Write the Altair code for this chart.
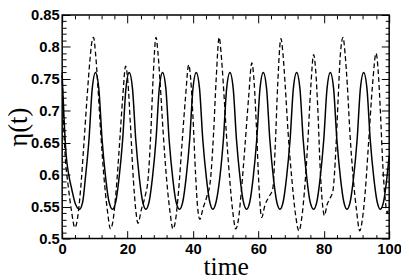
import altair as alt
import pandas as pd

# solid curve
solid_t = [0, 0.3, 0.6, 1.2, 2.0, 2.9, 4.0, 5.3, 6.3,
           7.1, 8.2, 9.2, 10.2, 11.2, 12.2, 13.3, 14.3, 15.4, 16.4,
           17.4, 18.5, 19.5, 20.5, 21.5, 22.5, 23.6, 24.6, 25.6, 26.6,
           27.6, 28.7, 29.7, 30.7, 31.7, 32.7, 33.8, 34.8, 35.9, 36.9,
           37.9, 39.0, 40.0, 41.0, 42.0, 43.0, 44.1, 45.1, 46.1, 47.1,
           48.2, 49.3, 50.3, 51.3, 52.3, 53.3, 54.4, 55.4, 56.4, 57.4,
           58.4, 59.5, 60.5, 61.5, 62.5, 63.5, 64.6, 65.6, 66.6, 67.6,
           68.6, 69.7, 70.7, 71.7, 72.7, 73.7, 74.8, 75.8, 76.9, 77.9,
           78.9, 80.0, 81.0, 82.0, 83.0, 84.0, 85.1, 86.1, 87.1, 88.1,
           89.1, 90.2, 91.2, 92.2, 93.2, 94.2, 95.3, 96.3, 97.3, 98.3,
           99.3, 100]
solid_y = [0.755, 0.72, 0.685, 0.632, 0.60, 0.578, 0.555, 0.546, 0.558,
           0.595, 0.655, 0.735, 0.76, 0.735, 0.655, 0.595, 0.558, 0.546, 0.558,
           0.595, 0.655, 0.735, 0.76, 0.735, 0.655, 0.595, 0.558, 0.546, 0.558,
           0.595, 0.655, 0.735, 0.76, 0.735, 0.655, 0.595, 0.558, 0.546, 0.558,
           0.595, 0.655, 0.735, 0.76, 0.735, 0.655, 0.595, 0.558, 0.546, 0.558,
           0.595, 0.655, 0.735, 0.76, 0.735, 0.655, 0.595, 0.558, 0.546, 0.558,
           0.595, 0.655, 0.735, 0.76, 0.735, 0.655, 0.595, 0.558, 0.546, 0.558,
           0.595, 0.655, 0.735, 0.76, 0.735, 0.655, 0.595, 0.558, 0.546, 0.558,
           0.595, 0.655, 0.735, 0.76, 0.735, 0.655, 0.595, 0.558, 0.546, 0.558,
           0.595, 0.655, 0.735, 0.76, 0.735, 0.655, 0.595, 0.558, 0.546, 0.558,
           0.595, 0.63]

# dashed curve
dash_t = [0, 0.3, 0.8, 1.9, 2.8, 3.9, 4.7, 5.6, 6.6, 7.6, 8.5, 9.0, 9.6,
          10.2, 10.9, 11.8, 12.8, 13.8, 14.8, 15.6, 16.5, 17.5, 18.5, 19.4,
          20.1, 20.9, 21.8, 22.5, 23.2, 24.2, 25.3, 26.3, 27.1, 27.8, 28.7,
          29.3, 30.0, 30.9, 31.9, 32.9, 33.9, 34.7, 35.6, 36.6, 37.7, 38.7,
          39.3, 40.0, 40.8, 41.4, 42.1, 43.1, 44.2, 45.3, 46.3, 47.1, 48.0,
          48.6, 49.3, 50.2, 51.2, 52.1, 53.1, 53.9, 54.8, 55.9, 57.0, 58.0,
          58.7, 59.4, 60.2, 61.0, 62.0, 63.2, 64.4, 65.2, 65.9, 66.9,
          67.5, 68.2, 69.1, 70.2, 71.3, 72.4, 73.2, 74.1, 75.1, 76.0, 76.9,
          77.5, 78.2, 78.9, 79.5, 80.2, 81.0, 81.9, 82.8, 83.7, 84.4, 85.1, 85.9,
          86.5, 87.2, 88.0, 89.0, 90.0, 91.0, 91.8, 92.7, 93.7, 94.9, 96.0,
          96.6, 97.3, 98.1, 98.8, 99.4, 100]
dash_y = [0.76, 0.70, 0.64, 0.58, 0.545, 0.517, 0.532, 0.575, 0.645, 0.72, 0.78, 0.805, 0.815,
          0.79, 0.74, 0.665, 0.595, 0.545, 0.515, 0.53, 0.575, 0.645, 0.72, 0.77,
          0.745, 0.675, 0.59, 0.545, 0.524, 0.545, 0.565, 0.595, 0.665, 0.75, 0.815,
          0.79, 0.74, 0.665, 0.595, 0.545, 0.515, 0.53, 0.575, 0.645, 0.72, 0.772,
          0.75, 0.69, 0.60, 0.55, 0.53, 0.548, 0.565, 0.59, 0.665, 0.75, 0.815,
          0.79, 0.74, 0.665, 0.595, 0.545, 0.515, 0.53, 0.575, 0.645, 0.72, 0.775,
          0.745, 0.675, 0.58, 0.533, 0.552, 0.565, 0.578, 0.65, 0.74, 0.813,
          0.79, 0.74, 0.665, 0.595, 0.54, 0.512, 0.53, 0.575, 0.65, 0.735, 0.788,
          0.765, 0.70, 0.61, 0.56, 0.536, 0.553, 0.563, 0.575, 0.64, 0.72, 0.79, 0.815,
          0.79, 0.74, 0.665, 0.595, 0.545, 0.512, 0.53, 0.575, 0.65, 0.74, 0.79,
          0.765, 0.70, 0.61, 0.56, 0.54, 0.55]

x_major = [0, 20, 40, 60, 80, 100]
x_minor = [4, 8, 12, 16, 24, 28, 32, 36, 44, 48, 52, 56, 64, 68, 72, 76, 84, 88, 92, 96]
y_major = [0.5, 0.55, 0.6, 0.65, 0.7, 0.75, 0.8, 0.85]
y_minor = [0.51, 0.52, 0.53, 0.54, 0.56, 0.57, 0.58, 0.59, 0.61, 0.62, 0.63, 0.64,
           0.66, 0.67, 0.68, 0.69, 0.71, 0.72, 0.73, 0.74, 0.76, 0.77, 0.78, 0.79,
           0.81, 0.82, 0.83, 0.84]

solid = pd.DataFrame({"t": solid_t, "eta": solid_y})
dashed = pd.DataFrame({"t": dash_t, "eta": dash_y})

xs = alt.Scale(domain=[0, 100], nice=False, zero=False)
ys = alt.Scale(domain=[0.5, 0.85], nice=False, zero=False)


def tick_axis(orient, values, size):
    return alt.Axis(orient=orient, values=values, labels=False, domain=False, grid=False,
                    ticks=True, tickSize=size, tickColor="black", tickWidth=1,
                    offset=-size, title=None)


main = alt.Chart(solid).mark_line(color="black", strokeWidth=1.5, interpolate="monotone").encode(
    x=alt.X("t:Q", scale=xs, axis=alt.Axis(
        orient="bottom", values=x_major, ticks=False, domain=False, grid=False,
        labelFont="Liberation Sans", labelFontWeight="bold", labelFontSize=15,
        labelColor="black", labelPadding=3, labelFlush=False, labelOverlap=False,
        title="time", titleFont="Liberation Serif", titleFontSize=26,
        titleFontWeight="normal", titleColor="black", titlePadding=-2)),
    y=alt.Y("eta:Q", scale=ys, axis=alt.Axis(
        orient="left", values=y_major, ticks=False, domain=False, grid=False,
        labelFont="Liberation Sans", labelFontWeight="bold", labelFontSize=15,
        labelColor="black", labelPadding=3, labelOverlap=False,
        format=".2~f",
        title="η(t)", titleFont="Liberation Serif", titleFontSize=27,
        titleFontWeight="normal", titleColor="black", titlePadding=-2)),
)

dash = alt.Chart(dashed).mark_line(color="black", strokeWidth=1.3, strokeDash=[5, 3],
                                   interpolate="monotone").encode(
    x=alt.X("t:Q", scale=xs, axis=tick_axis("bottom", x_major, 8)),
    y=alt.Y("eta:Q", scale=ys, axis=tick_axis("left", y_major, 8)),
)

inv = alt.Chart(solid).mark_line(opacity=0)

l3 = inv.encode(
    x=alt.X("t:Q", scale=xs, axis=tick_axis("bottom", x_minor, 4)),
    y=alt.Y("eta:Q", scale=ys, axis=tick_axis("left", y_minor, 4)),
)
l4 = inv.encode(
    x=alt.X("t:Q", scale=xs, axis=tick_axis("top", x_major, 8)),
    y=alt.Y("eta:Q", scale=ys, axis=tick_axis("right", y_major, 8)),
)
l5 = inv.encode(
    x=alt.X("t:Q", scale=xs, axis=tick_axis("top", x_minor, 4)),
    y=alt.Y("eta:Q", scale=ys, axis=tick_axis("right", y_minor, 4)),
)

chart = alt.layer(main, dash, l3, l4, l5).resolve_axis(
    x="independent", y="independent"
).properties(
    width=332, height=227,
    padding={"left": 55, "top": 5, "right": 12, "bottom": 40},
    autosize=alt.AutoSizeParams(type="none"),
).configure_view(stroke="black", strokeWidth=1.5)

chart.save("out.html", embed_options={"renderer": "svg", "actions": False})
